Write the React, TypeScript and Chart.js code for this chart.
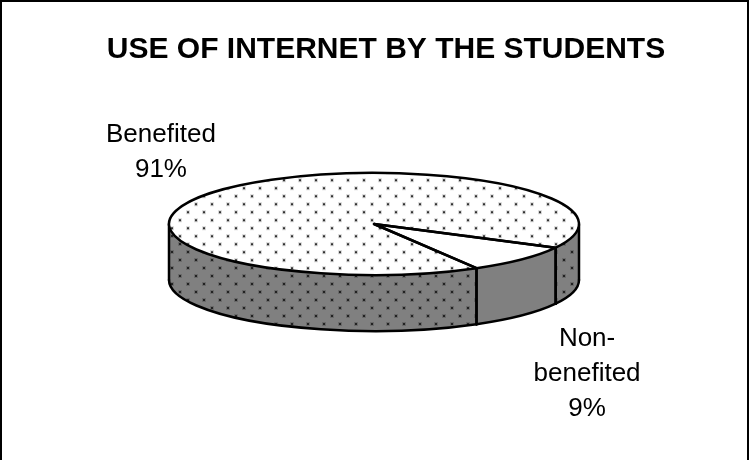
import React, { useEffect, useRef } from "react";
import { Chart, registerables } from "chart.js";

Chart.register(...registerables);

// ---- data ----
const chartTitle = "USE OF INTERNET BY THE STUDENTS";
const categories = ["Benefited", "Non-benefited"];
const values = [91, 9];

// ---- style / layout constants ----
const TILT = 0.249; // vertical squash of the pie top
const DEPTH = 56; // thickness of the 3D pie
const FONT = "'Liberation Sans', Arial, Helvetica, sans-serif";
const LINE_W = 2.5;

function dotTile(bg: string, dot: string, halo: string): HTMLCanvasElement {
  const c = document.createElement("canvas");
  c.width = 16;
  c.height = 16;
  const g = c.getContext("2d")!;
  g.fillStyle = bg;
  g.fillRect(0, 0, 16, 16);
  for (const [x, y] of [
    [3, 3],
    [11, 11],
  ]) {
    g.fillStyle = halo;
    g.fillRect(x - 1, y - 1, 4, 4);
    g.fillStyle = dot;
    g.fillRect(x, y, 2, 2);
  }
  return c;
}

function visibleFront(s: number, e: number): Array<[number, number]> {
  const out: Array<[number, number]> = [];
  for (let k = -2; k <= 3; k++) {
    const lo = 2 * Math.PI * k;
    const hi = lo + Math.PI;
    const a = Math.max(s, lo);
    const b = Math.min(e, hi);
    if (b > a + 1e-6) out.push([a, b]);
  }
  return out;
}

function splitLabel(label: string): string[] {
  const i = label.indexOf("-");
  if (i > 0 && i < label.length - 1) return [label.slice(0, i + 1), label.slice(i + 1)];
  return [label];
}

export default function App() {
  const ref = useRef<HTMLCanvasElement | null>(null);

  useEffect(() => {
    const canvas = ref.current!;
    const ctx0 = canvas.getContext("2d")!;
    const topPattern = ctx0.createPattern(dotTile("#ffffff", "#333333", "#d8d8d8"), "repeat")!;
    topPattern.setTransform(new DOMMatrix([1, 0, 0, 1 / TILT, 0, 0]));
    const sidePattern = ctx0.createPattern(dotTile("#808080", "#222222", "#6a6a6a"), "repeat")!;
    const sideFills: Array<string | CanvasPattern> = [sidePattern, "#808080"];

    const pie3d = {
      id: "pie3d",
      beforeDraw(chart: any) {
        const ctx = chart.ctx as CanvasRenderingContext2D;
        ctx.save();
        ctx.fillStyle = "#ffffff";
        ctx.fillRect(0, 0, chart.width, chart.height);
        ctx.strokeStyle = "#000";
        ctx.lineWidth = 2;
        ctx.strokeRect(1, 1, chart.width - 4, chart.height + 40);
        ctx.fillStyle = "#000";
        ctx.font = `bold 30px ${FONT}`;
        ctx.textAlign = "center";
        ctx.textBaseline = "alphabetic";
        ctx.fillText(chartTitle, 386, 58);
        ctx.restore();
      },
      beforeDatasetsDraw(chart: any) {
        const ctx = chart.ctx as CanvasRenderingContext2D;
        const arcs = chart.getDatasetMeta(0).data;
        ctx.save();
        arcs.forEach((arc: any, i: number) => {
          const { x, y, startAngle, endAngle, outerRadius: r } = arc.getProps(
            ["x", "y", "startAngle", "endAngle", "outerRadius"],
            true
          );
          for (const [a, b] of visibleFront(startAngle, endAngle)) {
            ctx.beginPath();
            ctx.ellipse(x, y, r, r * TILT, 0, a, b, false);
            ctx.ellipse(x, y + DEPTH, r, r * TILT, 0, b, a, true);
            ctx.closePath();
            ctx.fillStyle = sideFills[i % sideFills.length] as any;
            ctx.fill();
          }
        });
        // outlines of the sides
        ctx.strokeStyle = "#000";
        ctx.lineWidth = LINE_W;
        ctx.lineJoin = "round";
        ctx.lineCap = "round";
        arcs.forEach((arc: any) => {
          const { x, y, startAngle, endAngle, outerRadius: r } = arc.getProps(
            ["x", "y", "startAngle", "endAngle", "outerRadius"],
            true
          );
          for (const [a, b] of visibleFront(startAngle, endAngle)) {
            ctx.beginPath();
            ctx.ellipse(x, y + DEPTH, r, r * TILT, 0, a, b, false);
            ctx.stroke();
            for (const t of [a, b]) {
              const px = x + r * Math.cos(t);
              const py = y + r * TILT * Math.sin(t);
              ctx.beginPath();
              ctx.moveTo(px, py);
              ctx.lineTo(px, py + DEPTH);
              ctx.stroke();
            }
          }
        });
        ctx.restore();
        // squash the pie top for Chart.js' own arc drawing
        const a0 = arcs[0];
        ctx.save();
        ctx.translate(a0.x, a0.y);
        ctx.scale(1, TILT);
        ctx.translate(-a0.x, -a0.y);
      },
      afterDatasetsDraw(chart: any) {
        const ctx = chart.ctx as CanvasRenderingContext2D;
        ctx.restore();
        const arcs = chart.getDatasetMeta(0).data;
        const data = chart.data.datasets[0].data as number[];
        const total = data.reduce((s: number, v: number) => s + v, 0);
        ctx.save();
        ctx.strokeStyle = "#000";
        ctx.lineWidth = LINE_W;
        ctx.lineJoin = "round";
        arcs.forEach((arc: any) => {
          const { x, y, startAngle, endAngle, outerRadius: r } = arc.getProps(
            ["x", "y", "startAngle", "endAngle", "outerRadius"],
            true
          );
          ctx.beginPath();
          ctx.moveTo(x, y);
          ctx.ellipse(x, y, r, r * TILT, 0, startAngle, endAngle, false);
          ctx.closePath();
          ctx.stroke();
        });
        // labels
        ctx.fillStyle = "#000";
        ctx.font = `26px ${FONT}`;
        ctx.textAlign = "center";
        ctx.textBaseline = "alphabetic";
        const lh = 35;
        arcs.forEach((arc: any, i: number) => {
          const { x, y, startAngle, endAngle, outerRadius: r } = arc.getProps(
            ["x", "y", "startAngle", "endAngle", "outerRadius"],
            true
          );
          const mid = (startAngle + endAngle) / 2;
          const lines = [
            ...splitLabel(chart.data.labels[i] as string),
            Math.round((data[i] / total) * 100) + "%",
          ];
          const ax = x + r * 1.44 * Math.cos(mid);
          const s = Math.sin(mid);
          let firstBase: number;
          if (s < 0) {
            const ay = y + r * TILT * 1.32 * s;
            firstBase = ay - (lines.length - 1) * lh;
          } else {
            const ay = y + DEPTH + r * TILT * 1.32 * s;
            firstBase = ay + 19;
          }
          lines.forEach((t, j) => ctx.fillText(t, ax, firstBase + j * lh));
        });
        ctx.restore();
      },
    };

    const chart = new Chart(canvas, {
      type: "pie",
      data: {
        labels: categories,
        datasets: [
          {
            data: values,
            backgroundColor: [topPattern, "#ffffff"] as any,
            borderWidth: 0,
            clip: false as any,
          },
        ],
      },
      options: {
        animation: false,
        responsive: false,
        devicePixelRatio: 1,
        events: [],
        rotation: 150,
        layout: { padding: { left: 169, right: 172, top: 19, bottom: 31 } },
        plugins: {
          legend: { display: false },
          tooltip: { enabled: false },
          title: { display: false },
        },
      },
      plugins: [pie3d],
    });
    return () => chart.destroy();
  }, []);

  return (
    <div style={{ position: "fixed", left: 0, top: 0, width: 751, height: 460, background: "#fff" }}>
      <canvas ref={ref} width={751} height={460} style={{ display: "block", width: 751, height: 460 }} />
    </div>
  );
}
